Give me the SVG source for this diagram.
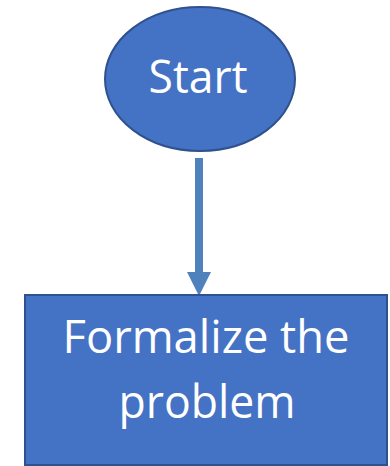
<svg xmlns="http://www.w3.org/2000/svg" width="390" height="466" viewBox="0 0 390 466">
<style>
.node{fill:#4472C4;stroke:#2F528F;stroke-width:2}
.lbl{fill:#FFFFFF;font-family:"Open Sans","Liberation Sans",sans-serif;font-size:46px;text-anchor:middle}
</style>
<rect width="390" height="466" fill="#FFFFFF"/>
<g id="start">
<ellipse class="node" cx="200" cy="79" rx="95" ry="72"/>
<text class="lbl" x="198" y="93" textLength="99" lengthAdjust="spacingAndGlyphs">Start</text>
</g>
<g id="connectors">
<rect x="195" y="158" width="8" height="116" fill="#4F81BD"/>
<polygon points="187,272 211,272 199,296" fill="#4F81BD"/>
</g>
<g id="formalize">
<rect class="node" x="25" y="295" width="362" height="170"/>
<text class="lbl" x="206" y="353" textLength="287" lengthAdjust="spacingAndGlyphs">Formalize the</text>
<text class="lbl" x="207" y="418" textLength="177" lengthAdjust="spacingAndGlyphs">problem</text>
</g>
</svg>
